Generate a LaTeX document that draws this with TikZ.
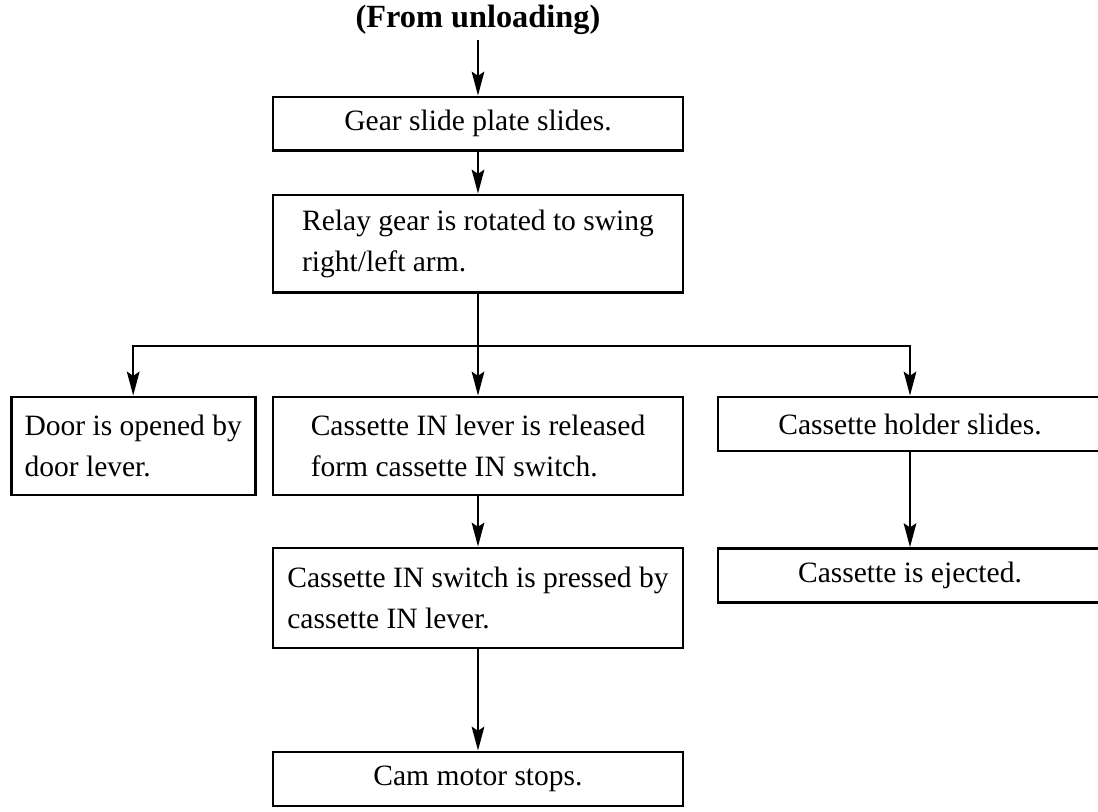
\documentclass[tikz,border=0pt]{standalone}
\usepackage{fontspec}
\setmainfont{Liberation Serif}
\usepackage{tikz}
\usetikzlibrary{arrows.meta, positioning, calc}

\begin{document}
\begin{tikzpicture}[
    stepbox/.style={draw=black, line width=2.1pt, align=left, inner sep=0pt,
        font=\fontsize{21pt}{29pt}\selectfont},
    flow/.style={draw=black, line width=1.4pt, -{Stealth[length=17pt, width=9pt, inset=3pt]}},
    link/.style={draw=black, line width=1.4pt}
]
    % ══════════════════════════════════════════════
    % ══ FRAME ══
    % ══════════════════════════════════════════════
    \useasboundingbox (0,0) rectangle (27.45,-20.3);

    % ══════════════════════════════════════════════
    % ══ MAIN COLUMN ══
    % ══════════════════════════════════════════════

    % Title
    \node[font=\fontsize{23pt}{26pt}\selectfont\bfseries] (title) at (11.95,-0.5) {(From unloading)};

    % Gear slide plate
    \node[stepbox, minimum width=10.25cm, minimum height=1.33cm] (slide) at (11.95,-3.09) {Gear slide plate slides.};

    % Relay gear
    \node[stepbox, minimum width=10.25cm, minimum height=2.43cm] (relay) at (11.95,-6.09)
        {Relay gear is rotated to swing\\right/left arm.};

    % ══════════════════════════════════════════════
    % ══ THREE BRANCHES ══
    % ══════════════════════════════════════════════

    % Door
    \node[stepbox, minimum width=6.1cm, minimum height=2.45cm] (door) at (3.33,-11.15)
        {Door is opened by\\door lever.};

    % Cassette IN lever
    \node[stepbox, minimum width=10.25cm, minimum height=2.45cm] (release) at (11.95,-11.15)
        {Cassette IN lever is released\\form cassette IN switch.};

    % Cassette holder (right side runs off the page)
    \node[stepbox, minimum width=9.6cm, minimum height=1.35cm] (holder) at (22.75,-10.6)
        {Cassette holder slides.};

    % Cassette ejected
    \node[stepbox, minimum width=9.6cm, minimum height=1.35cm] (eject) at (22.75,-14.39)
        {Cassette is ejected.};

    % Cassette IN switch
    \node[stepbox, minimum width=10.25cm, minimum height=2.5cm] (press) at (11.95,-14.95)
        {Cassette IN switch is pressed by\\cassette IN lever.};

    % Cam motor
    \node[stepbox, minimum width=10.25cm, minimum height=1.35cm] (stop) at (11.95,-19.475)
        {Cam motor stops.};

    % ══════════════════════════════════════════════
    % ══ ARROWS ══
    % ══════════════════════════════════════════════
    \draw[flow] (title) -- (slide);
    \draw[flow] (slide) -- (relay);

    \draw[link] (relay.south) -- ++(0,-1.3) coordinate (fork);
    \draw[flow] (fork) -| (door);
    \draw[flow] (fork) -- (release);
    \draw[flow] (fork) -| (holder);

    \draw[flow] (holder) -- (eject);
    \draw[flow] (release) -- (press);
    \draw[flow] (press) -- (stop);

\end{tikzpicture}
\end{document}
